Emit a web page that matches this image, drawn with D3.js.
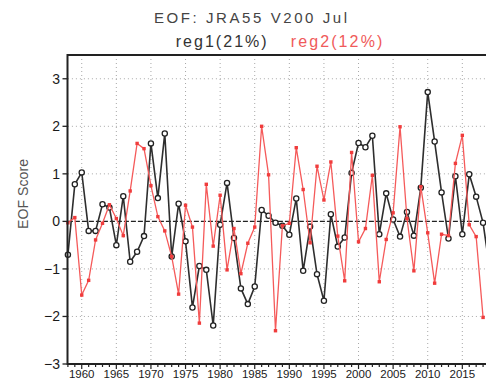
<!DOCTYPE html>
<html>
<head>
<meta charset="utf-8">
<script src="https://cdn.jsdelivr.net/npm/d3@7"></script>
<style>
  body { margin: 0; background: #fff; }
  svg { display: block; font-family: 'Liberation Sans', Arial, sans-serif; }
  .grid line { stroke: #a8a8a8; stroke-width: 1; stroke-dasharray: 1,3; }
</style>
</head>
<body>
<svg width="486" height="381"></svg>
<script>
/* global d3 */

const years = d3.range(1958, 2020);

// reg1 (black), 1958-2019 (last one only partly visible at the edge)
const reg1 = [
  -0.70, 0.78, 1.03, -0.20, -0.20, 0.36, 0.29, -0.50, 0.53, -0.85,
  -0.64, -0.31, 1.64, 0.49, 1.85, -0.74, 0.37, -0.42, -1.81, -0.94,
  -1.02, -2.19, -0.07, 0.81, -0.35, -1.41, -1.74, -1.37, 0.24, 0.12,
  -0.03, -0.09, -0.28, 0.48, -1.04, -0.11, -1.11, -1.67, 0.15, -0.53,
  -0.34, 1.02, 1.65, 1.56, 1.80, -0.27, 0.59, 0.04, -0.32, 0.20,
  -0.30, 0.71, 2.72, 1.68, 0.61, -0.36, 0.95, -0.27, 0.99, 0.52,
  -0.03, -1.05
];

// reg2 (red), 1958-2018
const reg2 = [
  -0.03, 0.08, -1.55, -1.24, -0.39, -0.04, 0.35, 0.06, -0.30, 0.64,
  1.64, 1.53, 0.75, 0.10, -0.20, -0.74, -1.53, 0.34, -0.12, -2.14,
  0.78, -0.52, 0.55, -1.02, -0.15, -1.10, -0.46, -0.12, 2.00, 0.98,
  -2.30, -0.09, -0.04, 1.55, 0.67, -0.45, 1.16, 0.45, 1.25, -0.31,
  -1.25, 1.45, -0.43, -0.15, 0.97, -1.27, -0.38, 0.18, 1.99, 0.06,
  -1.04, 0.73, -0.24, -1.30, -0.27, -0.30, 1.22, 1.81, -0.07, -0.32,
  -2.02
];

const xTicks = d3.range(1960, 2020, 5);
const yTicks = [-3, -2, -1, 0, 1, 2, 3];

const svg = d3.select('svg');

const x = d3.scaleLinear().domain([1958, 2019]).range([67.9, 490]);
const y = d3.scaleLinear().domain([-3, 3.5]).range([364, 55]);

// grid
const grid = svg.append('g').attr('class', 'grid');
grid.selectAll('line.v')
  .data(xTicks)
  .enter()
  .append('line')
  .attr('x1', d => x(d)).attr('x2', d => x(d))
  .attr('y1', y(3.5)).attr('y2', y(-3));
grid.selectAll('line.h')
  .data(yTicks.filter(d => d !== 0 && d !== -3))
  .enter()
  .append('line')
  .attr('x1', x(1958)).attr('x2', x(2019))
  .attr('y1', d => y(d)).attr('y2', d => y(d));

// zero line
svg.append('line')
  .attr('x1', x(1958)).attr('x2', x(2019))
  .attr('y1', y(0)).attr('y2', y(0))
  .attr('stroke', '#222')
  .attr('stroke-width', 1.2)
  .attr('stroke-dasharray', '5,2');

// series
const line = d3.line()
  .x((d, i) => x(years[i]))
  .y(d => y(d));

const s1 = svg.append('g').attr('class', 'reg1');
s1.append('path')
  .datum(reg1)
  .attr('d', line)
  .attr('fill', 'none')
  .attr('stroke', '#2e2e2e')
  .attr('stroke-width', 1.6);
s1.selectAll('circle')
  .data(reg1)
  .enter()
  .append('circle')
  .attr('cx', (d, i) => x(years[i]))
  .attr('cy', d => y(d))
  .attr('r', 2.6)
  .attr('fill', '#fff')
  .attr('stroke', '#222')
  .attr('stroke-width', 1.3);

const s2 = svg.append('g').attr('class', 'reg2');
s2.append('path')
  .datum(reg2)
  .attr('d', line)
  .attr('fill', 'none')
  .attr('stroke', '#f55a5a')
  .attr('stroke-width', 1.3);
s2.selectAll('rect')
  .data(reg2)
  .enter()
  .append('rect')
  .attr('x', (d, i) => x(years[i]) - 1.7)
  .attr('y', d => y(d) - 1.7)
  .attr('width', 3.4)
  .attr('height', 3.4)
  .attr('fill', '#f03c3c');

// frame
const frame = svg.append('g')
  .attr('stroke', '#222')
  .attr('stroke-width', 2)
  .attr('fill', 'none');
frame.append('rect')
  .attr('x', x(1958) - 0.4)
  .attr('y', y(3.5))
  .attr('width', x(2019) - x(1958) + 2)
  .attr('height', y(-3) - y(3.5));

// y ticks and labels
const yAxis = svg.append('g');
yAxis.selectAll('line')
  .data(yTicks)
  .enter()
  .append('line')
  .attr('x1', 62.5).attr('x2', 67.5)
  .attr('y1', d => y(d)).attr('y2', d => y(d))
  .attr('stroke', '#222')
  .attr('stroke-width', 1.3);
yAxis.selectAll('text')
  .data(yTicks)
  .enter()
  .append('text')
  .attr('x', 60)
  .attr('y', d => y(d) + 5)
  .attr('text-anchor', 'end')
  .attr('font-size', 14)
  .attr('fill', '#1a1a1a')
  .text(d => d < 0 ? '\u2212' + Math.abs(d) : d);

// x ticks: minor every year, labels every 5
const xAxis = svg.append('g');
xAxis.selectAll('line')
  .data(years)
  .enter()
  .append('line')
  .attr('x1', d => x(d)).attr('x2', d => x(d))
  .attr('y1', y(-3)).attr('y2', d => y(-3) + (d % 5 === 0 ? 5 : 3))
  .attr('stroke', '#222')
  .attr('stroke-width', 1.2);
xAxis.selectAll('text')
  .data(xTicks)
  .enter()
  .append('text')
  .attr('x', d => x(d))
  .attr('y', 378)
  .attr('text-anchor', 'middle')
  .attr('font-size', 11.5)
  .attr('fill', '#1a1a1a')
  .text(d => d);

// axis title
svg.append('text')
  .attr('transform', 'translate(28,194) rotate(-90)')
  .attr('text-anchor', 'middle')
  .attr('font-size', 14)
  .attr('fill', '#555')
  .attr('textLength', 70)
  .attr('lengthAdjust', 'spacing')
  .text('EOF Score');

// titles
svg.append('text')
  .attr('x', 154)
  .attr('y', 22.7)
  .attr('font-size', 15)
  .attr('fill', '#444')
  .attr('textLength', 193)
  .attr('lengthAdjust', 'spacing')
  .text('EOF: JRA55 V200 Jul');

svg.append('text')
  .attr('x', 175.7)
  .attr('y', 46.7)
  .attr('font-size', 16)
  .attr('fill', '#333')
  .attr('textLength', 91)
  .attr('lengthAdjust', 'spacing')
  .text('reg1(21%)');

svg.append('text')
  .attr('x', 290.7)
  .attr('y', 46.7)
  .attr('font-size', 16)
  .attr('fill', '#f05a5a')
  .attr('textLength', 91.6)
  .attr('lengthAdjust', 'spacing')
  .text('reg2(12%)');
</script>
</body>
</html>
